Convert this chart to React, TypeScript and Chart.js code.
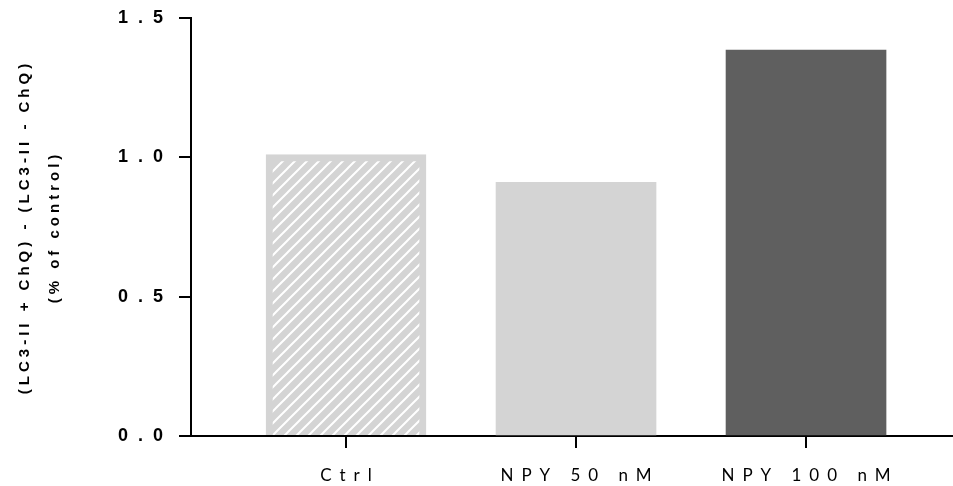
import { useEffect, useRef } from 'react';
import { Chart, registerables } from 'chart.js';

Chart.register(...registerables);

const categories = ['Ctrl', 'NPY 50 nM', 'NPY 100 nM'];
const values = [1.01, 0.91, 1.385];
const yTickValues = [0, 0.5, 1.0, 1.5];
const yTitleLines = ['(LC3-II + ChQ) - (LC3-II - ChQ)', '(% of control)'];

const barColors = ['#d4d4d4', '#d4d4d4', '#5f5f5f'];

const spacingCfg: Record<string, { labels: number; shift: number; title: number }> = {
  x: { labels: 8, shift: 4, title: 0 },
  y: { labels: 10, shift: 0, title: 4.0 },
};

const letterSpacingPlugin = {
  id: 'letterSpacingPlugin',
  afterLayout(chart: any) {
    for (const id of Object.keys(chart.scales)) {
      const s: any = chart.scales[id];
      const cfg = spacingCfg[id];
      if (!cfg || s.__patched) continue;
      s.__patched = true;
      const origLabels = s.drawLabels.bind(s);
      const origTitle = s.drawTitle.bind(s);
      s.drawLabels = (area: any) => {
        const ctx = s.ctx;
        ctx.save();
        ctx.letterSpacing = cfg.labels + 'px';
        ctx.translate(cfg.shift, 0);
        origLabels(area);
        ctx.restore();
      };
      s.drawTitle = () => {
        const ctx = s.ctx;
        ctx.save();
        ctx.letterSpacing = cfg.title + 'px';
        origTitle();
        ctx.restore();
      };
    }
  },
};

function makeHatch(): CanvasPattern | string {
  const size = 12;
  const c = document.createElement('canvas');
  c.width = size;
  c.height = size;
  const g = c.getContext('2d');
  if (!g) return '#d4d4d4';
  g.fillStyle = '#d4d4d4';
  g.fillRect(0, 0, size, size);
  g.strokeStyle = '#ffffff';
  g.lineWidth = 2;
  g.beginPath();
  g.moveTo(-2, size + 2);
  g.lineTo(size + 2, -2);
  g.moveTo(-2, 2);
  g.lineTo(2, -2);
  g.moveTo(size - 2, size + 2);
  g.lineTo(size + 2, size - 2);
  g.stroke();
  const p = g.createPattern(c, 'repeat');
  return p || '#d4d4d4';
}

export default function App() {
  const ref = useRef<HTMLCanvasElement | null>(null);

  useEffect(() => {
    if (!ref.current) return;
    const hatch = makeHatch();
    const chart = new Chart(ref.current, {
      type: 'bar',
      data: {
        datasets: [
          {
            data: values.map((v, i) => ({ x: i, y: v })),
            backgroundColor: [hatch, barColors[1], barColors[2]] as any,
            borderColor: barColors,
            borderWidth: [7, 0, 0],
            borderSkipped: 'start',
            barThickness: 160,
          },
        ],
      },
      options: {
        responsive: false,
        animation: false,
        events: [],
        layout: { padding: { top: 18, left: 0, right: 0, bottom: 0 } },
        plugins: {
          legend: { display: false },
          tooltip: { enabled: false },
        },
        scales: {
          x: {
            type: 'linear',
            offset: false,
            min: -0.674,
            max: 2.639,
            afterBuildTicks: (scale: any) => {
              scale.ticks = categories.map((_, i) => ({ value: i }));
            },
            afterFit: (scale: any) => {
              scale.height = 50;
            },
            grid: {
              offset: false,
              drawOnChartArea: false,
              drawTicks: true,
              tickLength: 12,
              color: '#000',
              lineWidth: 2,
            },
            border: { display: true, color: '#000', width: 2 },
            ticks: {
              autoSkip: false,
              maxRotation: 0,
              padding: 17,
              color: '#000',
              font: { family: 'Lato', size: 17, weight: 'normal' },
              callback: (v: any) => categories[Math.round(Number(v))] ?? '',
            },
          },
          y: {
            type: 'linear',
            min: 0,
            max: 1.5,
            afterBuildTicks: (scale: any) => {
              scale.ticks = yTickValues.map((v) => ({ value: v }));
            },
            afterFit: (scale: any) => {
              scale.width = 191;
            },
            grid: {
              drawOnChartArea: false,
              drawTicks: true,
              tickLength: 12,
              color: '#000',
              lineWidth: 2,
            },
            border: { display: true, color: '#000', width: 2 },
            ticks: {
              padding: 6,
              color: '#000',
              font: { family: 'Liberation Sans', size: 18, weight: 'bold' },
              callback: (v: any) => Number(v).toFixed(1),
            },
            title: {
              display: true,
              text: yTitleLines,
              color: '#000',
              padding: { top: 10, bottom: 0 },
              font: { family: 'Liberation Sans', size: 15, weight: 'bold', lineHeight: 2.0 },
            },
          },
        },
      },
      plugins: [letterSpacingPlugin],
    });
    return () => chart.destroy();
  }, []);

  return (
    <div style={{ position: 'fixed', left: 0, top: 0, width: 953, height: 486, background: '#fff' }}>
      <canvas ref={ref} width={953} height={486} style={{ display: 'block' }} />
    </div>
  );
}
